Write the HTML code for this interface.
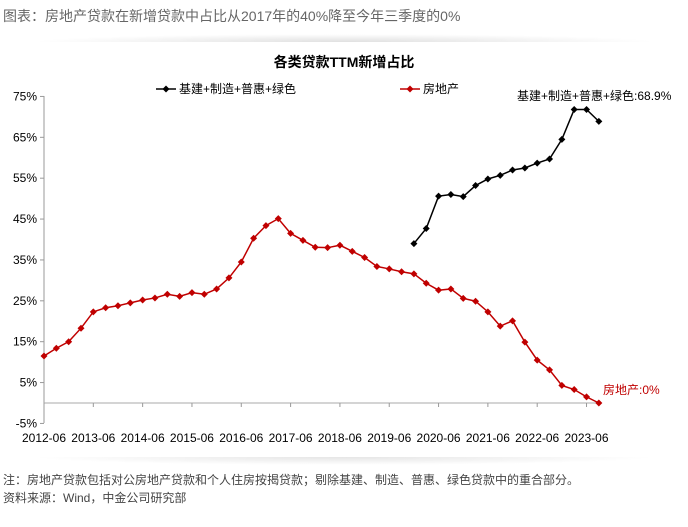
<!DOCTYPE html>
<html><head><meta charset="utf-8"><style>
body{margin:0;width:688px;height:527px;background:#fff;overflow:hidden;font-family:"Liberation Sans","Noto Sans CJK SC",sans-serif;}
.hdr{position:absolute;left:3px;top:6px;font-size:14px;color:#666;}
.sh{position:absolute;left:30px;width:628px;height:8px;}
.note{position:absolute;left:3px;font-size:12px;color:#444;}
</style></head><body>
<div class="hdr">图表：房地产贷款在新增贷款中占比从2017年的40%降至今年三季度的0%</div>
<div class="sh" style="top:34px;background:radial-gradient(ellipse at 50% 100%,rgba(0,0,0,0.12),rgba(0,0,0,0) 70%)"></div>
<div class="sh" style="top:457px;background:radial-gradient(ellipse at 50% 0%,rgba(0,0,0,0.10),rgba(0,0,0,0) 70%)"></div>
<svg id="chart" width="688" height="527" style="position:absolute;left:0;top:0"></svg>
<div class="note" style="top:471px">注：房地产贷款包括对公房地产贷款和个人住房按揭贷款；剔除基建、制造、普惠、绿色贷款中的重合部分。</div>
<div class="note" style="top:489px">资料来源：Wind，中金公司研究部</div>
<script>
const yTicks=[75,65,55,45,35,25,15,5,-5];
const xLabels=["2012-06","2013-06","2014-06","2015-06","2016-06","2017-06","2018-06","2019-06","2020-06","2021-06","2022-06","2023-06"];
const realEstate=[11.5,13.4,15,18.3,22.3,23.3,23.8,24.5,25.2,25.7,26.6,26.1,27,26.6,27.9,30.6,34.5,40.3,43.4,45.1,41.5,39.8,38.1,38,38.6,37.1,35.6,33.4,32.8,32.1,31.6,29.3,27.6,27.9,25.6,24.9,22.3,18.8,20.1,14.9,10.5,8.1,4.3,3.3,1.5,0];
const infraEtc=[39.0,42.7,50.6,51.0,50.5,53.2,54.8,55.7,57.0,57.5,58.7,59.7,64.5,71.8,71.8,68.9];
const infraStart=30;
const svg=document.getElementById('chart');
const NS='http://www.w3.org/2000/svg';
const y=v=>403-v*4.0875;
const x=i=>44+i*12.33;
function mk(t,a){const e=document.createElementNS(NS,t);for(const k in a)e.setAttribute(k,a[k]);svg.appendChild(e);return e;}
let t=mk('text',{x:344,y:67,'text-anchor':'middle','font-size':14,'font-weight':'bold',fill:'#000'});t.textContent='各类贷款TTM新增占比';


let ax=mk('line',{x1:44,y1:96,x2:44,y2:423,stroke:'#999'});


yTicks.forEach(v=>{
 let l=mk('line',{x1:40,y1:y(v),x2:44,y2:y(v),stroke:'#999'});
 
 
 let tx=mk('text',{x:37,y:y(v)+4,'text-anchor':'end','font-size':12,fill:'#000'});tx.textContent=v+'%';
 
 
});
let zl=mk('line',{x1:44,y1:y(0),x2:600,y2:y(0),stroke:'#aaa'});


xLabels.forEach((s,k)=>{
 const xx=x(k*4);
 let l=mk('line',{x1:xx,y1:y(0),x2:xx,y2:y(0)+4,stroke:'#999'});
 
 
 let tx=mk('text',{x:xx,y:442,'text-anchor':'middle','font-size':12,fill:'#000'});tx.textContent=s;
 
 
});
function series(vals,off,color,name){
 const pts=vals.map((v,i)=>x(i+off)+','+y(v)).join(' ');
 let p=mk('polyline',{points:pts,fill:'none',stroke:color,'stroke-width':1.5});
 
 
 vals.forEach((v,i)=>{
  const cx=x(i+off),cy=y(v);
  let m=mk('polygon',{points:`${cx},${cy-3.5} ${cx+3.5},${cy} ${cx},${cy+3.5} ${cx-3.5},${cy}`,fill:color});
  
  
 });
}
series(realEstate,0,'#c00000','real-estate');
series(infraEtc,infraStart,'#000','infra-mfg-inclusive-green');
function legend(x0,color,label,name){
 let l=mk('line',{x1:x0,y1:89,x2:x0+20,y2:89,stroke:color,'stroke-width':1.5});
 
 
 let m=mk('polygon',{points:`${x0+10},${85.5} ${x0+13.5},89 ${x0+10},92.5 ${x0+6.5},89`,fill:color});
 
 
 let tx=mk('text',{x:x0+23,y:93,'font-size':12,fill:'#000'});tx.textContent=label;
 
 
}
legend(156,'#000','基建+制造+普惠+绿色','infra');
legend(400,'#c00000','房地产','real-estate');
let a1=mk('text',{x:517,y:100,'font-size':12,fill:'#000'});a1.textContent='基建+制造+普惠+绿色:'+infraEtc[infraEtc.length-1]+'%';


let a2=mk('text',{x:603,y:394,'font-size':12,fill:'#c00000'});a2.textContent='房地产:'+realEstate[realEstate.length-1]+'%';


</script>
</body></html>
